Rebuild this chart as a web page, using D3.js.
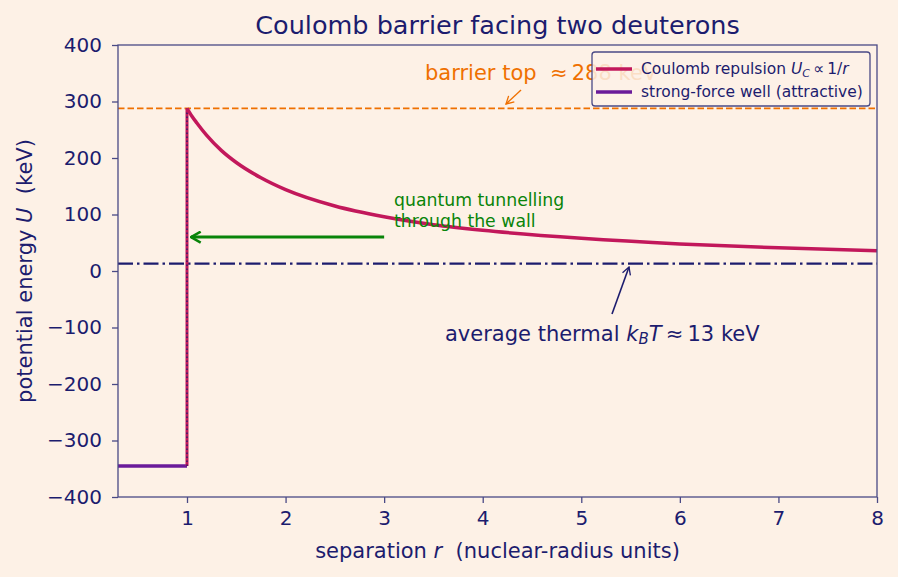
<!DOCTYPE html>
<html><head><meta charset="utf-8">
<script src="https://cdn.jsdelivr.net/npm/d3@7"></script>
<style>
body{margin:0;background:#fdf1e6;}
svg{font-family:"DejaVu Sans",sans-serif;}
text{white-space:pre;}
</style></head><body>
<svg id="c" width="898" height="577"></svg>
<script>
// ---- data ----
const coulombR = [1.0, 1.05, 1.1, 1.2, 1.35, 1.5, 1.75, 2, 2.5, 3, 3.5, 4, 5, 6, 7, 8];
const coulombU = [288, 274, 262, 240, 213, 192, 165, 144, 115, 96, 82, 72, 58, 48, 41, 36];
const wellR = [0.3, 1.0];
const wellU = [-345, -345];
const wallR = 1.0;
const barrierTop = 288;
const thermalU = 13;
const tunnelFromR = 3.0, tunnelToR = 1.04, tunnelU = 60;
const xTicks = [1, 2, 3, 4, 5, 6, 7, 8];
const yTicks = [-400, -300, -200, -100, 0, 100, 200, 300, 400];

const navy = "#1c1c6e", crimson = "#c2185b", purple = "#6a1b9a", orange = "#ef7000", green = "#098409", spine = "#4a4a86";
const svg = d3.select("#c");
const L = 118, R = 877, T = 45, B = 497;
const x = d3.scaleLinear().domain([0.3, 8]).range([L, R]);
const y = d3.scaleLinear().domain([-400, 400]).range([B, T]);

svg.append("rect").attr("width", 898).attr("height", 577).attr("fill", "#fdf1e6");

const defs = svg.append("defs");
function marker(id, color, w, s) {
  defs.append("marker").attr("id", id).attr("viewBox", "0 0 12 12").attr("refX", 11).attr("refY", 6)
    .attr("markerWidth", s).attr("markerHeight", s).attr("markerUnits", "userSpaceOnUse").attr("orient", "auto")
    .append("path").attr("d", "M2,1 L11,6 L2,11").attr("fill", "none").attr("stroke", color).attr("stroke-width", w)
    .attr("stroke-linejoin", "miter");
}
marker("aO", orange, 1.6, 10); marker("aN", navy, 1.6, 10); marker("aG", green, 2.4, 13);

const g = svg.append("g");
// barrier top dashed
g.append("line").attr("x1", L).attr("x2", R).attr("y1", y(barrierTop)).attr("y2", y(barrierTop))
  .attr("stroke", orange).attr("stroke-width", 1.7).attr("stroke-dasharray", "6.5,3");
// thermal dash-dot
g.append("line").attr("x1", L).attr("x2", R).attr("y1", y(thermalU)).attr("y2", y(thermalU))
  .attr("stroke", navy).attr("stroke-width", 2.2).attr("stroke-dasharray", "15,4,2.5,4");

// well
g.append("path").datum(wellR.map((r, i) => [r, wellU[i]]))
  .attr("d", d3.line().x(d => x(d[0])).y(d => y(d[1])))
  .attr("fill", "none").attr("stroke", purple).attr("stroke-width", 3.5);
// wall vertical (crimson)
g.append("line").attr("x1", x(wallR)).attr("x2", x(wallR)).attr("y1", y(wellU[1])).attr("y2", y(barrierTop))
  .attr("stroke", crimson).attr("stroke-width", 3);
// dotted navy wall marker
g.append("line").attr("x1", x(wallR)).attr("x2", x(wallR)).attr("y1", y(wellU[1])).attr("y2", y(barrierTop))
  .attr("stroke", navy).attr("stroke-width", 1.3).attr("stroke-dasharray", "1.5,2.5");
// coulomb curve
g.append("path").datum(coulombR.map((r, i) => [r, coulombU[i]]))
  .attr("d", d3.line().x(d => x(d[0])).y(d => y(d[1])).curve(d3.curveMonotoneX))
  .attr("fill", "none").attr("stroke", crimson).attr("stroke-width", 3.5);

// tunnelling arrow
g.append("line").attr("x1", x(tunnelFromR)).attr("x2", x(tunnelToR)).attr("y1", y(tunnelU)).attr("y2", y(tunnelU))
  .attr("stroke", green).attr("stroke-width", 3).attr("marker-end", "url(#aG)");
const tt = g.append("text").attr("fill", green).attr("font-size", 17.3);
tt.append("tspan").attr("x", 394).attr("y", 206).text("quantum tunnelling");
tt.append("tspan").attr("x", 394).attr("y", 227).text("through the wall");

// barrier annotation
g.append("text").attr("x", 425).attr("y", 80).attr("fill", orange).attr("font-size", 21)
  .text("barrier top  \u2248\u2009288 keV");
g.append("line").attr("x1", 521).attr("y1", 90).attr("x2", 506).attr("y2", 104)
  .attr("stroke", orange).attr("stroke-width", 1.4).attr("marker-end", "url(#aO)");

// thermal annotation
g.append("line").attr("x1", 612).attr("y1", 314).attr("x2", 629).attr("y2", 267)
  .attr("stroke", navy).attr("stroke-width", 1.6).attr("marker-end", "url(#aN)");
const th = g.append("text").attr("x", 445).attr("y", 341).attr("fill", navy).attr("font-size", 21);
th.append("tspan").text("average thermal ");
th.append("tspan").attr("font-style", "italic").text("k");
th.append("tspan").attr("font-style", "italic").attr("font-size", 15).attr("dy", 3).text("B");
th.append("tspan").attr("font-style", "italic").attr("dy", -3).text("T");
th.append("tspan").text("\u2009\u2248\u200913 keV");

// axes
const ax = svg.append("g").attr("transform", `translate(0,${B})`)
  .call(d3.axisBottom(x).tickValues(xTicks).tickFormat(d3.format("d")).tickSize(6).tickPadding(8));
const ay = svg.append("g").attr("transform", `translate(${L},0)`)
  .call(d3.axisLeft(y).tickValues(yTicks).tickFormat(d => d < 0 ? "\u2212" + Math.abs(d) : d).tickSize(6).tickPadding(10));
[ax, ay].forEach(a => {
  a.select(".domain").remove();
  a.selectAll("line").attr("stroke", spine).attr("stroke-width", 1.3);
  a.selectAll("text").attr("fill", navy).attr("font-size", 20).attr("font-family", "DejaVu Sans");
});
svg.append("rect").attr("x", L).attr("y", T).attr("width", R - L).attr("height", B - T)
  .attr("fill", "none").attr("stroke", spine).attr("stroke-width", 1.3);

// axis labels
const xl = svg.append("text").attr("x", (L + R) / 2).attr("y", 558).attr("text-anchor", "middle")
  .attr("fill", navy).attr("font-size", 21);
xl.append("tspan").text("separation ");
xl.append("tspan").attr("font-style", "italic").text("r");
xl.append("tspan").text("  (nuclear-radius units)");
const yl = svg.append("text").attr("transform", `translate(32,${(T + B) / 2}) rotate(-90)`).attr("text-anchor", "middle")
  .attr("fill", navy).attr("font-size", 21);
yl.append("tspan").text("potential energy ");
yl.append("tspan").attr("font-style", "italic").text("U");
yl.append("tspan").text("  (keV)");

// title
svg.append("text").attr("x", (L + R) / 2).attr("y", 34).attr("text-anchor", "middle")
  .attr("fill", navy).attr("font-size", 25.5).text("Coulomb barrier facing two deuterons");

// legend
const lg = svg.append("g");
lg.append("rect").attr("x", 592).attr("y", 52).attr("width", 278).attr("height", 54).attr("rx", 3)
  .attr("fill", "#fdf1e6").attr("fill-opacity", 0.85).attr("stroke", spine).attr("stroke-width", 1.3);
const items = [
  {c: crimson, parts: [["Coulomb repulsion ", {}], ["U", {i: 1}], ["C", {i: 1, sub: 1}], ["\u2009\u221D\u20091/", {up: 1}], ["r", {i: 1}]]},
  {c: purple, parts: [["strong-force well (attractive)", {}]]}
];
items.forEach((it, k) => {
  const yy = 69 + k * 23;
  lg.append("line").attr("x1", 596).attr("x2", 632).attr("y1", yy).attr("y2", yy).attr("stroke", it.c).attr("stroke-width", 3.5);
  const t = lg.append("text").attr("x", 641).attr("y", yy + 5).attr("fill", navy).attr("font-size", 15.5);
  it.parts.forEach(([s, o]) => {
    const sp = t.append("tspan").text(s);
    if (o.i) sp.attr("font-style", "italic");
    if (o.sub) sp.attr("font-size", 11).attr("dy", 3);
    if (o.up) sp.attr("dy", -3);
  });
});
</script>
</body></html>
